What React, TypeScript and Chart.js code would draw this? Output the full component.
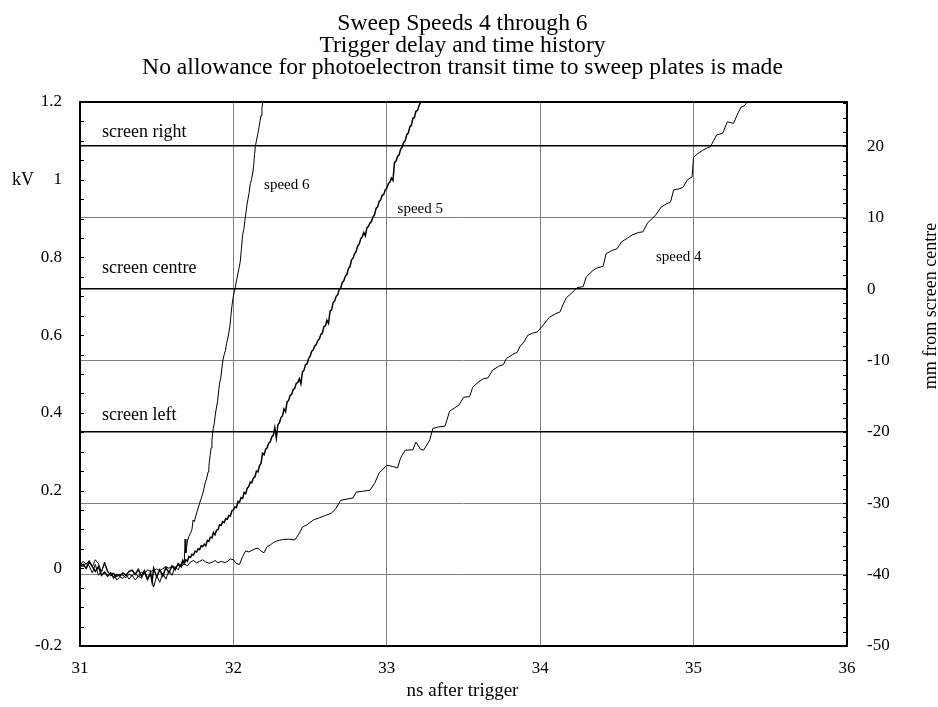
import React, { useEffect, useRef } from "react";
import { Chart, registerables } from "chart.js";

Chart.register(...registerables);

// ---------- text ----------
const titleLines = [
  "Sweep Speeds 4 through 6",
  "Trigger delay and time history",
  "No allowance for photoelectron transit time to sweep plates is made",
];
const xTitle = "ns after trigger";
const yLeftTitle = "kV";
const yRightTitle = "mm from screen centre";

// ---------- axes ----------
const xMin = 31;
const xMax = 36;
const kvMin = -0.2;
const kvMax = 1.2;
const mmMin = -50;
const mmMax = 26.2;
const kvMajor = [-0.2, 0, 0.2, 0.4, 0.6, 0.8, 1, 1.2];
const mmMajor = [-50, -40, -30, -20, -10, 0, 10, 20];

// screen reference lines (mm from screen centre)
const screenMm = [20, 0, -20];
const screenLabels = ["screen right", "screen centre", "screen left"];

// curve labels
const speedLabels = ["speed 6", "speed 5", "speed 4"];
const speedLabelX = [32.2, 33.07, 34.755];
const speedLabelKv = [0.975, 0.915, 0.79];

// ---------- data: speed 6 ----------
const s6x = [
  31.0, 31.02, 31.04, 31.06, 31.08, 31.1, 31.12, 31.14, 31.16, 31.18, 31.2, 31.22, 31.24, 31.26, 31.28,
  31.3, 31.32, 31.34, 31.36, 31.38, 31.4, 31.42, 31.44, 31.46, 31.48, 31.5, 31.52, 31.54, 31.56, 31.58,
  31.6, 31.62, 31.64, 31.66, 31.67, 31.68, 31.685, 31.69, 31.7, 31.71, 31.72, 31.73, 31.737, 31.745,
  31.755, 31.765, 31.78, 31.79, 31.8, 31.808, 31.815, 31.825, 31.835, 31.84, 31.848, 31.855, 31.86,
  31.867, 31.875, 31.882, 31.89, 31.897, 31.905, 31.91, 31.918, 31.925, 31.932, 31.94, 31.948, 31.955,
  31.962, 31.97, 31.978, 31.985, 31.992, 31.998, 32.005, 32.012, 32.02, 32.03, 32.038, 32.045, 32.052,
  32.06, 32.068, 32.075, 32.082, 32.088, 32.095, 32.103, 32.11, 32.118, 32.127, 32.133, 32.138, 32.143,
  32.15, 32.158, 32.165, 32.173, 32.18, 32.186, 32.192,
];
const s6v = [
  0.008, 0.018, 0.01, 0.02, 0.004, 0.022, 0.012, -0.01, 0.016, -0.006, -0.02, -0.014, -0.03, -0.022, -0.026,
  -0.016, -0.028, -0.018, -0.03, -0.02, -0.026, -0.01, -0.03, -0.014, -0.048, -0.02, -0.036, -0.012, -0.028, -0.006,
  -0.018, 0.004, -0.004, 0.012, 0.02, 0.015, 0.075, 0.04, 0.07, 0.082, 0.09, 0.1, 0.124, 0.12,
  0.135, 0.148, 0.168, 0.18, 0.192, 0.205, 0.219, 0.23, 0.248, 0.262, 0.29, 0.31, 0.33,
  0.356, 0.372, 0.395, 0.415, 0.43, 0.46, 0.477, 0.49, 0.515, 0.536, 0.55, 0.56, 0.578,
  0.59, 0.605, 0.625, 0.655, 0.68, 0.696, 0.71, 0.722, 0.74, 0.76, 0.775, 0.79, 0.82,
  0.858, 0.872, 0.895, 0.915, 0.935, 0.95, 0.968, 0.99, 1.0, 1.02, 1.04, 1.065, 1.085,
  1.1, 1.115, 1.13, 1.149, 1.165, 1.185, 1.2,
];

// ---------- data: speed 5 ----------
const s5x = [
  31.0, 31.02, 31.04, 31.06, 31.08, 31.1, 31.12, 31.14, 31.16, 31.18, 31.2, 31.22, 31.24, 31.26, 31.28,
  31.3, 31.32, 31.34, 31.36, 31.38, 31.4, 31.42, 31.44, 31.46, 31.47, 31.48, 31.5, 31.52, 31.54, 31.56,
  31.58, 31.6, 31.62, 31.64, 31.66, 31.67, 31.68, 31.69, 31.7, 31.71, 31.72, 31.73, 31.74, 31.75, 31.76,
  31.77, 31.78, 31.79, 31.8, 31.81, 31.82, 31.83, 31.84, 31.85, 31.86, 31.87, 31.88, 31.89, 31.9, 31.91,
  31.92, 31.93, 31.94, 31.95, 31.96, 31.97, 31.98, 31.99, 32.0, 32.01, 32.02, 32.03, 32.04, 32.05, 32.06,
  32.07, 32.08, 32.09, 32.1, 32.11, 32.12, 32.13, 32.14, 32.15, 32.16, 32.17, 32.18, 32.19, 32.2, 32.21,
  32.22, 32.23, 32.24, 32.25, 32.26, 32.27, 32.28, 32.29, 32.3, 32.31, 32.32, 32.33, 32.34, 32.35, 32.36,
  32.37, 32.38, 32.39, 32.4, 32.41, 32.42, 32.43, 32.44, 32.45, 32.46, 32.47, 32.48, 32.49, 32.5, 32.51,
  32.52, 32.53, 32.54, 32.55, 32.56, 32.57, 32.58, 32.59, 32.6, 32.61, 32.62, 32.63, 32.64, 32.65, 32.66,
  32.67, 32.68, 32.69, 32.7, 32.71, 32.72, 32.73, 32.74, 32.75, 32.76, 32.77, 32.78, 32.79, 32.8, 32.81,
  32.82, 32.83, 32.84, 32.85, 32.86, 32.87, 32.88, 32.89, 32.9, 32.91, 32.92, 32.93, 32.94, 32.95, 32.96,
  32.97, 32.98, 32.99, 33.0, 33.01, 33.02, 33.03, 33.04, 33.05, 33.06, 33.07, 33.08, 33.09, 33.1, 33.11,
  33.12, 33.13, 33.14, 33.15, 33.16, 33.17, 33.18, 33.19, 33.2, 33.21, 33.22,
];
const s5v = [
  0.004, 0.01, 0.0, 0.016, 0.005, -0.008, 0.004, -0.018, -0.01, -0.02, -0.012, -0.025, -0.016, -0.02, -0.012,
  -0.018, -0.008, -0.005, -0.016, -0.003, -0.02, -0.006, -0.028, -0.01, -0.035, 0.0, -0.022, -0.004, -0.02, 0.002,
  -0.012, 0.006, -0.004, 0.012, 0.004, 0.02, 0.012, 0.022, 0.018, 0.03, 0.028, 0.036, 0.034, 0.044, 0.042,
  0.05, 0.048, 0.058, 0.056, 0.062, 0.058, 0.072, 0.07, 0.08, 0.078, 0.092, 0.086, 0.098, 0.1, 0.112,
  0.11, 0.12, 0.118, 0.128, 0.126, 0.136, 0.134, 0.148, 0.15, 0.158, 0.156, 0.172, 0.17, 0.182, 0.18,
  0.195, 0.192, 0.206, 0.21, 0.222, 0.22, 0.232, 0.235, 0.25, 0.248, 0.264, 0.27, 0.296, 0.292, 0.306,
  0.31, 0.322, 0.325, 0.338, 0.342, 0.362, 0.335, 0.37, 0.374, 0.388, 0.392, 0.41, 0.403, 0.428, 0.432,
  0.445, 0.448, 0.46, 0.463, 0.476, 0.478, 0.488, 0.475, 0.505, 0.51, 0.524, 0.526, 0.54, 0.546, 0.558,
  0.562, 0.572, 0.576, 0.586, 0.59, 0.602, 0.605, 0.622, 0.624, 0.638, 0.63, 0.662, 0.665, 0.684, 0.688,
  0.7, 0.704, 0.718, 0.722, 0.736, 0.74, 0.752, 0.756, 0.772, 0.776, 0.794, 0.798, 0.81, 0.815, 0.83,
  0.834, 0.848, 0.853, 0.864, 0.855, 0.876, 0.88, 0.888, 0.893, 0.904, 0.91, 0.926, 0.93, 0.944, 0.948,
  0.96, 0.962, 0.974, 0.978, 0.99, 0.994, 1.004, 0.998, 1.044, 1.048, 1.06, 1.064, 1.078, 1.084, 1.096,
  1.1, 1.116, 1.12, 1.136, 1.14, 1.158, 1.16, 1.176, 1.178, 1.19, 1.2,
];

// ---------- data: speed 4 ----------
const s4x = [
  31.0, 31.02, 31.04, 31.06, 31.08, 31.1, 31.12, 31.14, 31.16, 31.18, 31.2, 31.22, 31.24, 31.26, 31.28,
  31.3, 31.32, 31.34, 31.36, 31.38, 31.4, 31.42, 31.44, 31.46, 31.48, 31.5, 31.52, 31.54, 31.56, 31.58,
  31.6, 31.62, 31.64, 31.66, 31.68, 31.7, 31.72, 31.74, 31.76, 31.78, 31.8, 31.82, 31.84, 31.86, 31.88,
  31.9, 31.92, 31.94, 31.96, 31.98, 32.0, 32.02, 32.04, 32.06, 32.08, 32.1, 32.12, 32.14, 32.16, 32.18,
  32.2, 32.22, 32.24, 32.26, 32.28, 32.3, 32.32, 32.36, 32.4, 32.43, 32.45, 32.48, 32.5, 32.52, 32.56,
  32.6, 32.64, 32.67, 32.7, 32.74, 32.78, 32.8, 32.84, 32.89, 32.92, 32.95, 33.0, 33.04, 33.07, 33.09,
  33.12, 33.17, 33.19, 33.22, 33.24, 33.28, 33.3, 33.34, 33.38, 33.41, 33.44, 33.47, 33.5, 33.54, 33.56,
  33.6, 33.63, 33.66, 33.69, 33.73, 33.76, 33.78, 33.82, 33.85, 33.87, 33.89, 33.92, 33.95, 33.98, 34.02,
  34.06, 34.1, 34.13, 34.15, 34.17, 34.21, 34.24, 34.28, 34.3, 34.34, 34.37, 34.41, 34.43, 34.47, 34.5,
  34.53, 34.57, 34.6, 34.64, 34.67, 34.7, 34.73, 34.75, 34.79, 34.82, 34.85, 34.87, 34.9, 34.93, 34.96,
  34.99, 35.0, 35.03, 35.06, 35.09, 35.11, 35.13, 35.15, 35.19, 35.22, 35.26, 35.29, 35.31, 35.33, 35.35,
];
const s4v = [
  0.012, 0.004, 0.014, 0.006, -0.012, 0.01, -0.018, -0.008, 0.012, -0.01, -0.015, -0.012, -0.022, -0.015, -0.018,
  -0.024, -0.015, -0.02, -0.012, -0.022, -0.01, -0.014, -0.004, -0.008, -0.005, -0.002, -0.006, -0.001, 0.004, 0.0,
  0.006, 0.002, 0.008, 0.004, 0.012, 0.006, 0.016, 0.02, 0.014, 0.018, 0.022, 0.016, 0.013, 0.015, 0.02,
  0.014, 0.018, 0.015, 0.017, 0.024, 0.022, 0.012, 0.01, 0.03, 0.045, 0.042, 0.046, 0.05, 0.052, 0.044,
  0.04, 0.056, 0.06, 0.066, 0.07, 0.072, 0.074, 0.075, 0.073, 0.09, 0.106, 0.112, 0.118, 0.124, 0.13,
  0.136, 0.142, 0.155, 0.175, 0.178, 0.181, 0.196, 0.198, 0.201, 0.218, 0.245, 0.265, 0.262, 0.258, 0.284,
  0.304, 0.305, 0.325, 0.306, 0.304, 0.33, 0.36, 0.364, 0.366, 0.405, 0.412, 0.42, 0.44, 0.442, 0.466,
  0.48, 0.488, 0.49, 0.51, 0.52, 0.524, 0.54, 0.55, 0.556, 0.572, 0.58, 0.6, 0.605, 0.608, 0.626,
  0.646, 0.655, 0.66, 0.68, 0.696, 0.71, 0.722, 0.725, 0.75, 0.765, 0.773, 0.777, 0.81, 0.818, 0.822,
  0.84, 0.85, 0.858, 0.864, 0.866, 0.889, 0.9, 0.908, 0.93, 0.937, 0.943, 0.974, 0.976, 0.98, 1.0,
  1.007, 1.058, 1.068, 1.076, 1.082, 1.085, 1.1, 1.115, 1.12, 1.149, 1.145, 1.172, 1.187, 1.19, 1.2,
];

const FONT = "'Liberation Serif', 'Times New Roman', serif";

const toPoints = (xs: number[], vs: number[]) => xs.map((x, i) => ({ x, y: vs[i] }));

const decorPlugin = {
  id: "decor",
  afterDraw(chart: any) {
    const { ctx, chartArea, scales } = chart;
    const { left, right, top, bottom } = chartArea;
    const xs = scales.x;
    const yk = scales.y;
    const ym = scales.y2;
    ctx.save();

    // minor ticks (inward)
    ctx.strokeStyle = "#000";
    ctx.lineWidth = 1;
    ctx.beginPath();
    for (let i = 0; i <= 28; i++) {
      const v = kvMin + i * 0.05;
      const y = Math.round(yk.getPixelForValue(v)) + 0.5;
      ctx.moveTo(left, y);
      ctx.lineTo(left + 4, y);
    }
    for (let m = mmMin; m <= mmMax; m += 2) {
      const y = Math.round(ym.getPixelForValue(m)) + 0.5;
      ctx.moveTo(right - 4, y);
      ctx.lineTo(right, y);
    }
    ctx.stroke();

    // frame
    ctx.lineWidth = 2;
    ctx.strokeStyle = "#000";
    ctx.strokeRect(left, top, right - left, bottom - top);

    // title
    ctx.fillStyle = "#000";
    ctx.textAlign = "center";
    ctx.textBaseline = "alphabetic";
    ctx.font = `23.6px ${FONT}`;
    const cx = (left + right) / 2 - 1;
    const baselines = [30, 52, 74];
    titleLines.forEach((t, i) => ctx.fillText(t, cx, baselines[i]));

    // x title
    ctx.font = `19px ${FONT}`;
    ctx.fillText(xTitle, cx, 696);

    // left title
    ctx.textAlign = "left";
    ctx.textBaseline = "middle";
    ctx.font = `18px ${FONT}`;
    ctx.fillText(yLeftTitle, 12, yk.getPixelForValue(1) + 1);

    // right title (rotated)
    ctx.save();
    ctx.translate(931, 306);
    ctx.rotate(-Math.PI / 2);
    ctx.textAlign = "center";
    ctx.font = `18px ${FONT}`;
    ctx.fillText(yRightTitle, 0, 0);
    ctx.restore();

    // screen labels
    ctx.textAlign = "left";
    ctx.textBaseline = "alphabetic";
    ctx.font = `18px ${FONT}`;
    const offs = [9, 16, 12];
    screenMm.forEach((m, i) => {
      ctx.fillText(screenLabels[i], left + 22, ym.getPixelForValue(m) - offs[i]);
    });

    // speed labels
    ctx.font = `15px ${FONT}`;
    speedLabels.forEach((t, i) => {
      ctx.fillText(t, xs.getPixelForValue(speedLabelX[i]), yk.getPixelForValue(speedLabelKv[i]));
    });

    ctx.restore();
  },
};

export default function App() {
  const ref = useRef<HTMLCanvasElement | null>(null);

  useEffect(() => {
    document.body.style.margin = "0";
    const canvas = ref.current!;
    const lineDs = (label: string, xs: number[], vs: number[], w: number) => ({
      label,
      data: toPoints(xs, vs),
      borderColor: "#000",
      backgroundColor: "#000",
      borderWidth: w,
      pointRadius: 0,
      tension: 0,
      fill: false,
      yAxisID: "y",
    });
    const chart = new Chart(canvas, {
      type: "line",
      data: {
        datasets: [
          lineDs("speed 6", s6x, s6v, 1),
          lineDs("speed 5", s5x, s5v, 1.5),
          lineDs("speed 4", s4x, s4v, 1),
        ],
      },
      options: {
        animation: false,
        responsive: false,
        maintainAspectRatio: false,
        events: [],
        layout: { padding: { top: 102, left: 0, right: 0, bottom: 0 } },
        plugins: {
          legend: { display: false },
          title: { display: false },
          tooltip: { enabled: false },
        },
        scales: {
          x: {
            type: "linear",
            min: xMin,
            max: xMax,
            afterFit: (s: any) => {
              s.height = 61;
            },
            ticks: {
              stepSize: 1,
              padding: 12,
              color: "#000",
              font: { family: FONT, size: 17 },
              callback: (v: any) => String(v),
            },
            grid: { color: "#808080", lineWidth: 1, drawTicks: false },
            border: { display: false },
          },
          y: {
            type: "linear",
            position: "left",
            min: kvMin,
            max: kvMax,
            afterFit: (s: any) => {
              s.width = 80;
            },
            afterBuildTicks: (s: any) => {
              s.ticks = kvMajor.map((v) => ({ value: v }));
            },
            ticks: {
              padding: 18,
              color: "#000",
              font: { family: FONT, size: 17 },
              callback: (v: any) => String(Math.round(Number(v) * 10) / 10),
            },
            grid: { display: false, drawTicks: false },
            border: { display: false },
          },
          y2: {
            type: "linear",
            position: "right",
            min: mmMin,
            max: mmMax,
            afterFit: (s: any) => {
              s.width = 91;
            },
            afterBuildTicks: (s: any) => {
              s.ticks = mmMajor.map((v) => ({ value: v }));
            },
            ticks: {
              padding: 20,
              color: "#000",
              font: { family: FONT, size: 17 },
              callback: (v: any) => String(v),
            },
            grid: {
              drawTicks: false,
              color: (c: any) => (screenMm.includes(c.tick?.value) ? "#000" : "#808080"),
              lineWidth: (c: any) => (screenMm.includes(c.tick?.value) ? 1.6 : 1),
            },
            border: { display: false },
          },
        },
      },
      plugins: [decorPlugin],
    });
    return () => chart.destroy();
  }, []);

  return <canvas ref={ref} width={938} height={707} style={{ display: "block" }} />;
}
